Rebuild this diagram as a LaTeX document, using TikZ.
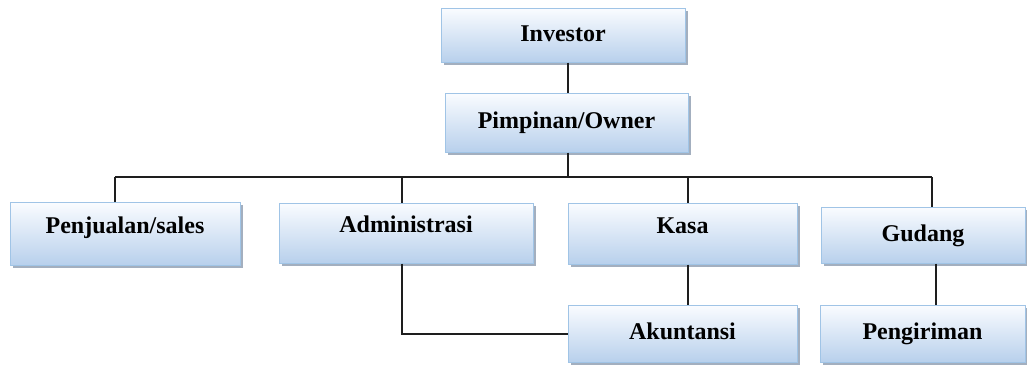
\documentclass[tikz,border=0pt]{standalone}
\usepackage{fontspec}
\setmainfont{Liberation Serif}
\usetikzlibrary{shadows}
\definecolor{boxtop}{RGB}{250,252,255}
\definecolor{boxbot}{RGB}{184,208,236}
\definecolor{boxline}{RGB}{160,196,230}
\definecolor{shadowc}{RGB}{140,155,175}
\definecolor{linec}{RGB}{30,30,30}
\tikzset{
  orgbox/.style={draw=boxline, line width=1pt, top color=boxtop, bottom color=boxbot,
    drop shadow={shadow xshift=2.5pt, shadow yshift=-3pt, fill=shadowc, opacity=0.8},
    font=\fontsize{24}{28}\selectfont\bfseries, inner sep=0pt, text=black,
    text height=17pt, text depth=5pt},
  raised/.style={text depth=18pt},
  conn/.style={draw=linec, line width=1.3pt}
}
\begin{document}
\begin{tikzpicture}[x=1pt,y=1pt]
\useasboundingbox (0,0) rectangle (1027,-364);
\node[orgbox, minimum width=244pt, minimum height=54pt] (inv) at (563,-35) {Investor};
\node[orgbox, minimum width=243pt, minimum height=59pt] (pim) at (566.5,-122.5) {Pimpinan/Owner};
\node[orgbox, raised, minimum width=230pt, minimum height=63pt] (pen) at (125,-233.5) {Penjualan/sales};
\node[orgbox, raised, minimum width=254pt, minimum height=60pt] (adm) at (406,-233) {Administrasi};
\node[orgbox, raised, minimum width=229pt, minimum height=61pt] (kas) at (682.5,-233.5) {Kasa};
\node[orgbox, minimum width=204pt, minimum height=56pt] (gud) at (923,-235) {Gudang};
\node[orgbox, minimum width=229pt, minimum height=57pt] (aku) at (682.5,-333.5) {Akuntansi};
\node[orgbox, minimum width=205pt, minimum height=57pt] (pgr) at (922.5,-333.5) {Pengiriman};
\coordinate (bus) at (568,-177);
\coordinate (busL) at (115,-177);
\coordinate (busR) at (932,-177);
\coordinate (elb) at (402,-334);
\draw[conn] ([xshift=5pt]inv.south) -- ([xshift=1.5pt]pim.north);
\draw[conn] ([xshift=1.5pt]pim.south) -- (bus);
\draw[conn] (busL) -- (busR);
\draw[conn] (busL) -- ([xshift=-10pt]pen.north);
\draw[conn] ([xshift=-4pt]adm.north |- bus) -- ([xshift=-4pt]adm.north);
\draw[conn] ([xshift=5.5pt]kas.north |- bus) -- ([xshift=5.5pt]kas.north);
\draw[conn] (busR) -- ([xshift=9pt]gud.north);
\draw[conn] ([xshift=5.5pt]kas.south) -- ([xshift=5.5pt]aku.north);
\draw[conn] ([xshift=13pt]gud.south) -- ([xshift=13.5pt]pgr.north);
\draw[conn] ([xshift=-4pt]adm.south) -- (elb) -- (aku.west |- elb);
\end{tikzpicture}
\end{document}
